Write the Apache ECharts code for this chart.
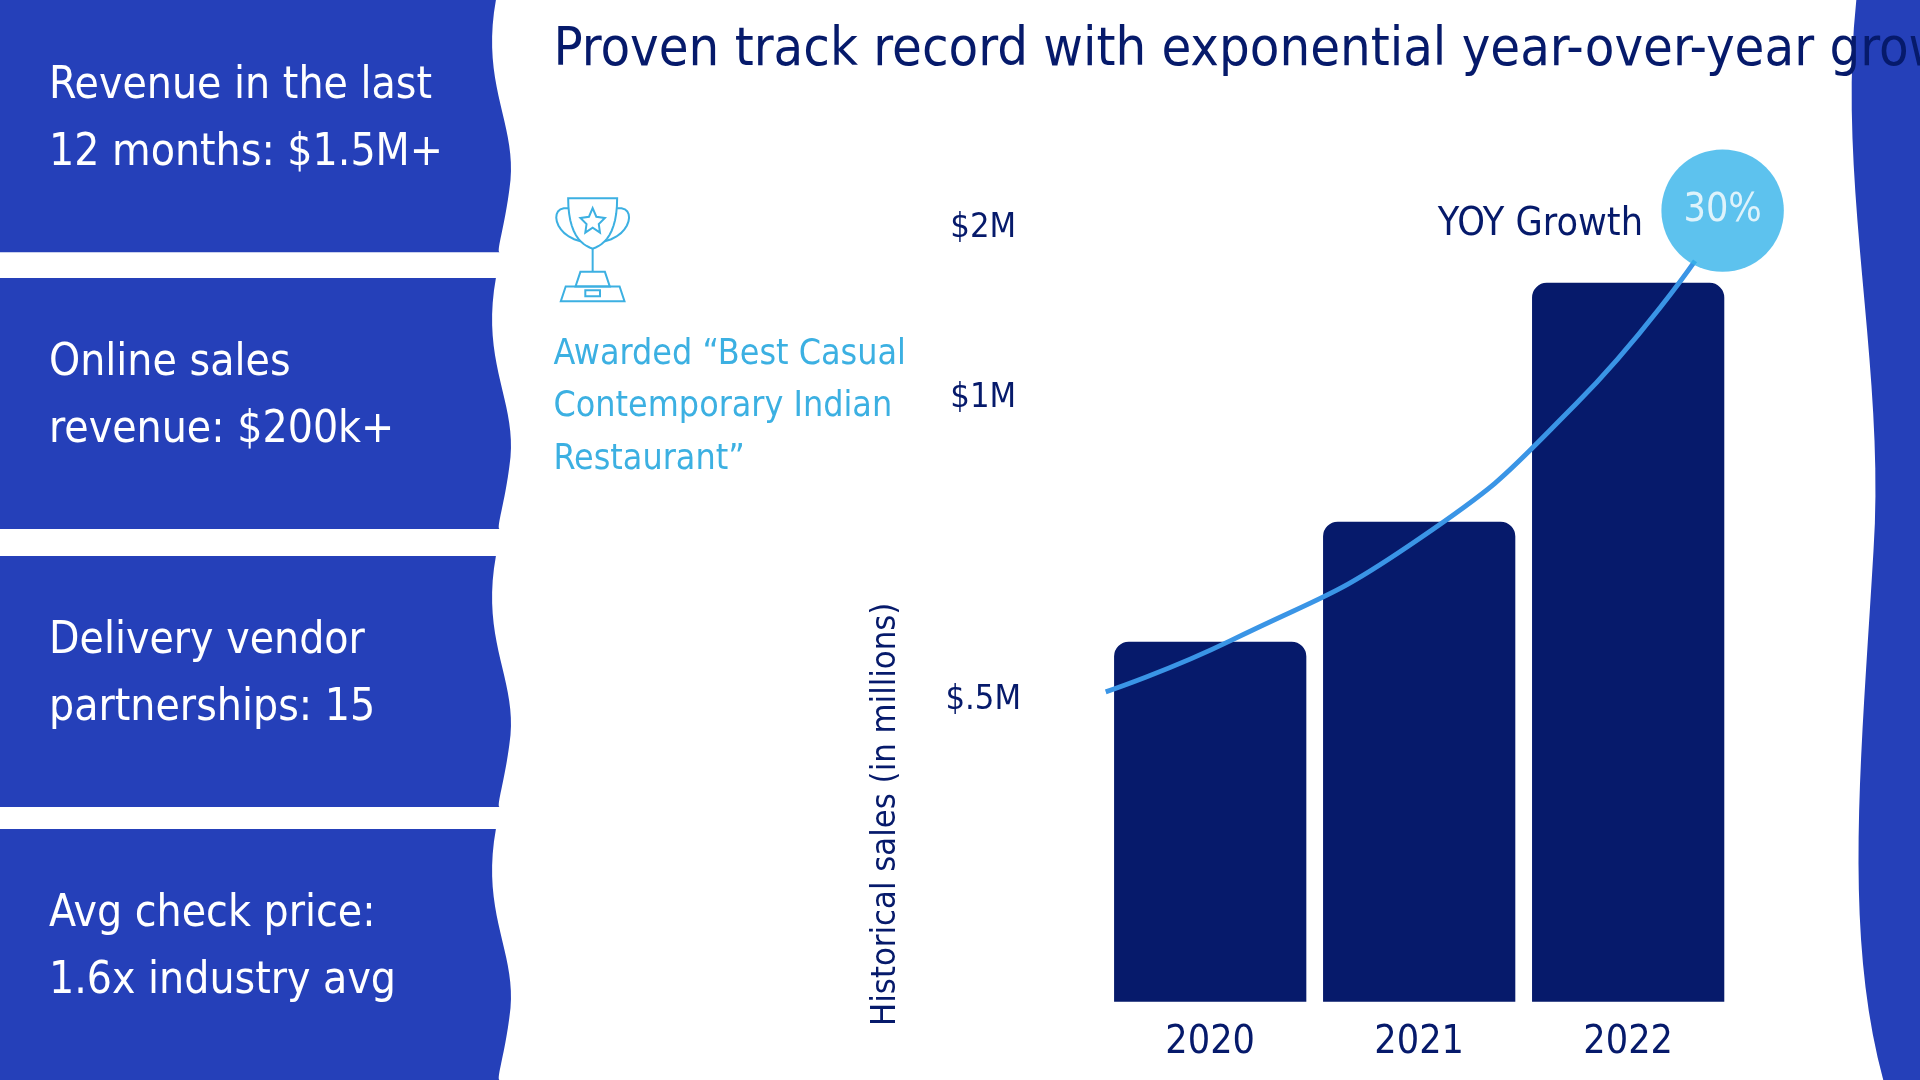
<!DOCTYPE html>
<html>
<head>
<meta charset="utf-8">
<script src="https://cdn.jsdelivr.net/npm/echarts@6/dist/echarts.min.js"></script>
<style>html,body{margin:0;padding:0;background:#fff}#chart{width:1920px;height:1080px}</style>
</head>
<body>
<div id="chart"></div>
<script>
// reference drawn at 1568 wide, scale to 1920
const k = 1920 / 1568;
const s = v => v * k;
const FONT = '"Liberation Sans Narrow", "DejaVu Sans Condensed", "Roboto", sans-serif';
const BLUE = '#2540b9', NAVY = '#061a6b', LIGHT = '#3cb0e2';

const years = ['2020', '2021', '2022'];
const sales = [2.94, 3.92, 5.87];          // bar heights (chart units)
const growth = [[0, 2.53], [20, 2.95], [50, 3.78], [75, 4.88], [94, 6.05]];

const panels = [
  [0, 206, 'Revenue in the last\n12 months: $1.5M+'],
  [227, 432, 'Online sales\nrevenue: $200k+'],
  [454, 659, 'Delivery vendor\npartnerships: 15'],
  [677, 882, 'Avg check price:\n1.6x industry avg']
];

// cubic bezier sampled to points (scaled)
function bez(a, b, c, d, n = 20) {
  const out = [];
  for (let i = 1; i <= n; i++) {
    const t = i / n, u = 1 - t;
    out.push([
      s(u*u*u*a[0] + 3*u*u*t*b[0] + 3*u*t*t*c[0] + t*t*t*d[0]),
      s(u*u*u*a[1] + 3*u*u*t*b[1] + 3*u*t*t*c[1] + t*t*t*d[1])
    ]);
  }
  return out;
}
const sc = pts => pts.map(p => [s(p[0]), s(p[1])]);

const graphic = [];
panels.forEach(([y0, y1, txt]) => {
  const h = y1 - y0;
  const pts = [[0, s(y0)], [s(405), s(y0)]]
    .concat(bez([405, y0], [392, y0 + h * 0.35], [424, y0 + h * 0.5], [416, y0 + h * 0.75]))
    .concat(bez([416, y0 + h * 0.75], [412, y0 + h * 0.9], [405, y1], [408, y1]))
    .concat([[0, s(y1)]]);
  graphic.push({type: 'polygon', shape: {points: pts}, style: {fill: BLUE}});
  graphic.push({
    type: 'text', left: s(40), top: s(y0 + h / 2) - s(60),
    style: {text: txt, fill: '#fff', font: `${s(36)}px ${FONT}`, lineHeight: s(55)}
  });
});
const strip = [[s(1568), 0], [s(1516), 0]]
  .concat(bez([1516, 0], [1500, 150], [1540, 300], [1530, 450]))
  .concat(bez([1530, 450], [1520, 620], [1505, 760], [1538, 882]))
  .concat([[s(1568), s(882)]]);
graphic.push({type: 'polygon', shape: {points: strip}, style: {fill: BLUE}});

const trophyStroke = {fill: 'none', stroke: LIGHT, lineWidth: 2};
const cup = [[s(464), s(162)], [s(504), s(162)]]
  .concat(bez([504, 162], [504, 190], [494, 200], [484, 203], 12))
  .concat(bez([484, 203], [474, 200], [464, 190], [464, 162], 12));
graphic.push(
  {type: 'polygon', shape: {points: cup}, style: trophyStroke},
  {type: 'polyline', shape: {points: [[s(464), s(170)]].concat(bez([464, 170], [448, 168], [452, 192], [474, 197], 12))}, style: trophyStroke},
  {type: 'polyline', shape: {points: [[s(504), s(170)]].concat(bez([504, 170], [520, 168], [516, 192], [494, 197], 12))}, style: trophyStroke},
  {type: 'polyline', shape: {points: sc([[484, 203], [484, 222]])}, style: trophyStroke},
  {type: 'polygon', shape: {points: sc([[474, 222], [494, 222], [498, 234], [470, 234]])}, style: trophyStroke},
  {type: 'polygon', shape: {points: sc([[462, 234], [506, 234], [510, 246], [458, 246]])}, style: trophyStroke},
  {type: 'polygon', shape: {points: sc([[478, 237], [490, 237], [490, 242], [478, 242]])}, style: trophyStroke},
  {type: 'polygon', shape: {points: sc([[484, 170], [487, 177], [494, 178], [489, 183], [490, 190], [484, 186], [478, 190], [479, 183], [474, 178], [481, 177]])}, style: trophyStroke},
  {type: 'text', left: s(452), top: s(20), style: {text: 'Proven track record with exponential year-over-year growth', fill: NAVY, font: `${s(44)}px ${FONT}`}},
  {type: 'text', left: s(452), top: s(268), style: {text: 'Awarded \u201cBest Casual\nContemporary Indian\nRestaurant\u201d', fill: LIGHT, font: `${s(29)}px ${FONT}`, lineHeight: s(43)}},
  {type: 'text', x: s(803), y: s(186), style: {text: '$2M', fill: NAVY, font: `${s(28)}px ${FONT}`, align: 'center', verticalAlign: 'middle'}},
  {type: 'text', x: s(803), y: s(325), style: {text: '$1M', fill: NAVY, font: `${s(28)}px ${FONT}`, align: 'center', verticalAlign: 'middle'}},
  {type: 'text', x: s(803), y: s(572), style: {text: '$.5M', fill: NAVY, font: `${s(28)}px ${FONT}`, align: 'center', verticalAlign: 'middle'}},
  {type: 'text', x: s(724), y: s(665), rotation: Math.PI / 2, style: {text: 'Historical sales (in millions)', fill: NAVY, font: `${s(28)}px ${FONT}`, align: 'center', verticalAlign: 'middle'}},
  {type: 'text', x: s(1258), y: s(184), style: {text: 'YOY Growth', fill: NAVY, font: `${s(32)}px ${FONT}`, align: 'center', verticalAlign: 'middle'}}
);

const chart = echarts.init(document.getElementById('chart'));
chart.setOption({
  animation: false,
  graphic: graphic,
  grid: {left: s(903), right: 1920 - s(1415), top: s(118), bottom: 1080 - s(818)},
  xAxis: [
    {type: 'category', data: years, axisLine: {show: false}, axisTick: {show: false},
     axisLabel: {color: NAVY, fontFamily: FONT, fontSize: s(32), margin: s(18)}},
    {type: 'value', min: 0, max: 100, show: false}
  ],
  yAxis: {type: 'value', min: 0, max: 7, show: false},
  series: [
    {type: 'bar', data: sales, barWidth: s(157), itemStyle: {color: NAVY, borderRadius: [s(12), s(12), 0, 0]}, z: 1},
    {type: 'line', xAxisIndex: 1, data: growth, smooth: true, symbol: 'none', lineStyle: {color: '#3a95e6', width: s(4)}, z: 2},
    {type: 'scatter', xAxisIndex: 1, data: [[98.4, 6.46]], symbolSize: s(100), itemStyle: {color: '#35b3ea'},
     label: {show: true, position: 'inside', formatter: '30%', color: '#fff', fontFamily: FONT, fontSize: s(32)}, z: 3}
  ]
});
</script>
</body>
</html>
